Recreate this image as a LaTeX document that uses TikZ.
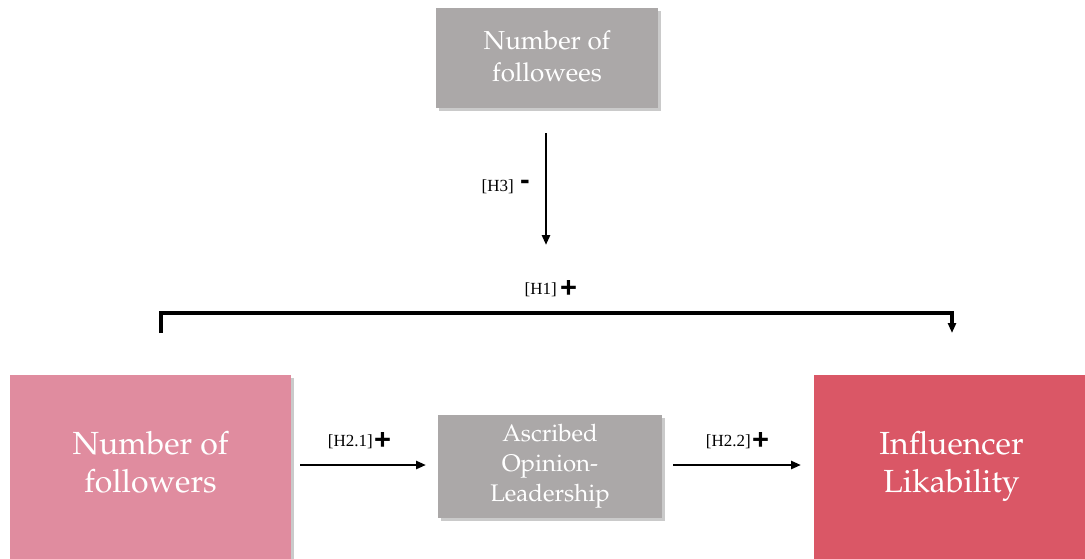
\documentclass[tikz,border=0pt]{standalone}
\usepackage[T1]{fontenc}
\usepackage{fontspec}
\setmainfont{Liberation Serif}
\newfontfamily\signfont{Liberation Sans}
\usetikzlibrary{arrows.meta,shadows}
\newcommand\palfont{\fontencoding{T1}\fontfamily{ppl}\selectfont}
\definecolor{boxgray}{HTML}{ABA8A8}
\definecolor{boxpink}{HTML}{E08C9F}
\definecolor{boxred}{HTML}{DA5766}
\tikzset{
  varbox/.style={draw=none, align=center, text=white, inner sep=0pt,
    drop shadow={shadow xshift=3pt, shadow yshift=-3pt, opacity=0.35, fill=black!60}},
  graybox/.style={varbox, fill=boxgray},
  hyp/.style={font=\fontsize{17}{19}\selectfont, inner sep=0pt},
  sign/.style={inner sep=0pt, font=\signfont\bfseries\fontsize{29}{29}\selectfont},
  arr/.style={line width=2.6pt, -{Triangle[length=10pt,width=8pt]}},
  bracket/.style={line width=3.1pt, -{Triangle[length=10pt,width=8pt]}}
}
\begin{document}
\begin{tikzpicture}[x=1pt,y=-1pt]
  \useasboundingbox (0,0) rectangle (1085,558);
  % variable boxes (a trailing negative line lifts the text slightly)
  \node[graybox, minimum width=222pt, minimum height=100pt,
        font=\palfont\fontsize{26}{32}\selectfont] (fee) at (547,58)
        {Number of\\followees\\[-28pt]};
  \node[varbox, fill=boxpink, minimum width=281pt, minimum height=186pt,
        font=\palfont\fontsize{32}{38}\selectfont] (fol) at (150.5,468)
        {Number of\\followers\\[-26pt]};
  \node[graybox, minimum width=224pt, minimum height=103pt,
        font=\palfont\fontsize{24}{30}\selectfont] (aol) at (550,466.5)
        {Ascribed\\Opinion-\\Leadership};
  \node[varbox, fill=boxred, minimum width=275pt, minimum height=186pt,
        font=\palfont\fontsize{32}{38}\selectfont] (lik) at (951.5,468)
        {Influencer\\Likability\\[-26pt]};
  % H3: followees moderate the main path
  \coordinate (h3s) at (546,133);
  \coordinate (h3e) at (546,245);
  \draw[arr] (h3s) -- (h3e);
  \node[hyp, anchor=east] (h3) at (514,187) {[H3]};
  \node[sign, anchor=west] (h3sign) at (520,185) {-};
  % H1: direct path
  \coordinate (h1s) at (161,333);
  \coordinate (h1e) at (952,333);
  \draw[bracket] (h1s) -- ++(0,-20) -| (h1e);
  \node[hyp, anchor=east] (h1) at (557,290) {[H1]};
  \node[sign, anchor=west] (h1sign) at (560,289) {+};
  % H2: mediated path
  \coordinate (h21s) at (300,465);
  \coordinate (h21e) at (426,465);
  \coordinate (h22s) at (673,465);
  \coordinate (h22e) at (801,465);
  \draw[arr] (h21s) -- (h21e);
  \draw[arr] (h22s) -- (h22e);
  \node[hyp, anchor=east] (h21) at (373,442) {[H2.1]};
  \node[sign, anchor=west] (h21sign) at (374,441) {+};
  \node[hyp, anchor=east] (h22) at (751,442) {[H2.2]};
  \node[sign, anchor=west] (h22sign) at (752,441) {+};
\end{tikzpicture}
\end{document}
